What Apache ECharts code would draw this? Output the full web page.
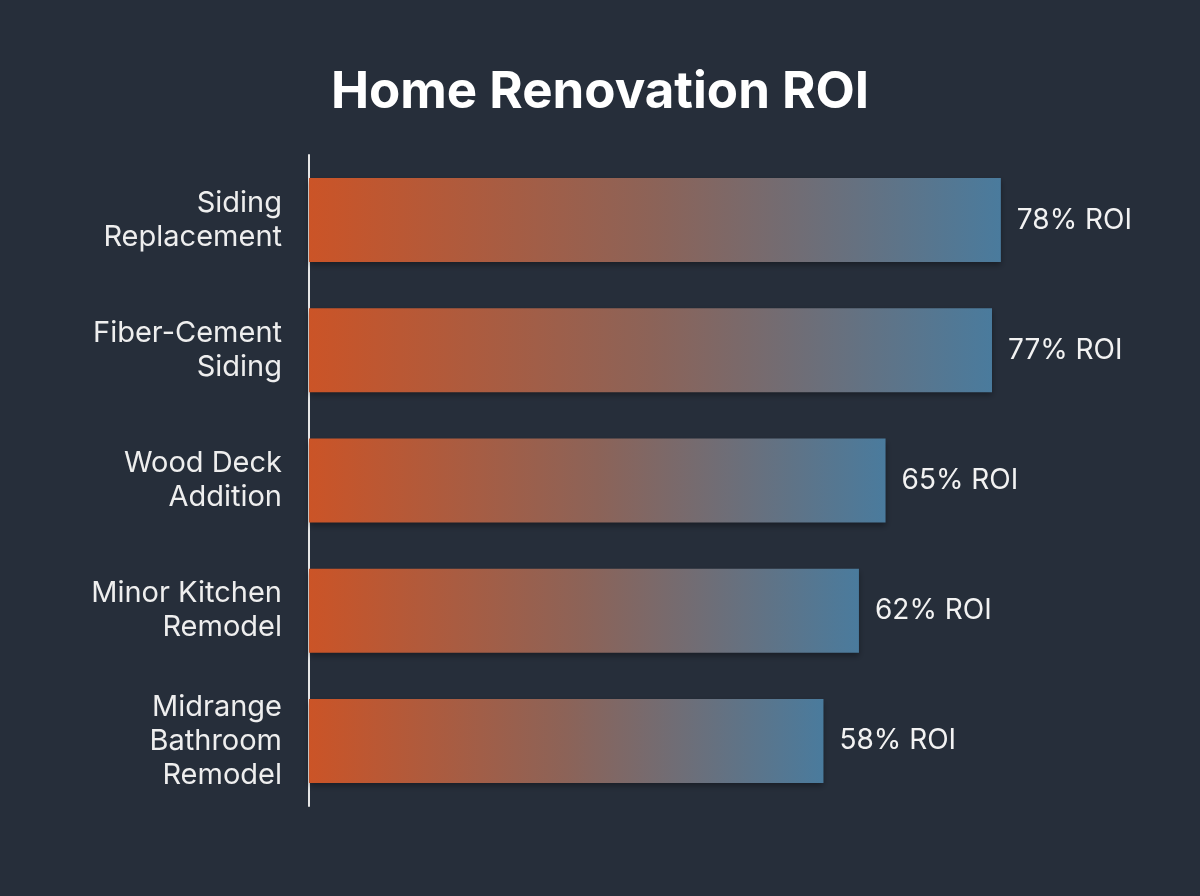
<!DOCTYPE html>
<html>
<head>
<meta charset="utf-8">
<title>Home Renovation ROI</title>
<script src="https://cdn.jsdelivr.net/npm/echarts@6/dist/echarts.min.js"></script>
<style>
  html, body { margin: 0; padding: 0; background: #262e3a; }
  #chart { width: 1200px; height: 896px; }
</style>
</head>
<body>
<div id="chart"></div>
<script>
// projects, top to bottom as drawn
const projects = [
  'Siding\nReplacement',
  'Fiber-Cement\nSiding',
  'Wood Deck\nAddition',
  'Minor Kitchen\nRemodel',
  'Midrange\nBathroom\nRemodel'
];
const roiValues = [78, 77, 65, 62, 58];

const barGradient = new echarts.graphic.LinearGradient(0, 0, 1, 0, [
  { offset: 0, color: '#cb5427' },
  { offset: 0.5, color: '#8c6358' },
  { offset: 1, color: '#4a7b9d' }
]);

const chart = echarts.init(document.getElementById('chart'));

chart.setOption({
  backgroundColor: '#262e3a',
  title: {
    text: 'Home Renovation ROI',
    left: 'center',
    top: 62,
    textStyle: {
      color: '#ffffff',
      fontFamily: 'Inter',
      fontWeight: 'bold',
      fontSize: 51
    }
  },
  grid: { left: 309, right: 4, top: 155, bottom: 90 },
  xAxis: {
    type: 'value',
    min: 0,
    max: 100,
    show: false
  },
  yAxis: {
    type: 'category',
    data: projects,
    inverse: true,
    axisLine: { show: true, lineStyle: { color: '#e6e6e6', width: 2 } },
    axisTick: { show: false },
    axisLabel: {
      color: '#eeeeee',
      fontFamily: 'Inter',
      fontSize: 29,
      lineHeight: 34,
      align: 'right',
      margin: 27
    }
  },
  series: [{
    type: 'bar',
    data: roiValues,
    barWidth: 84,
    itemStyle: {
      color: barGradient,
      shadowColor: 'rgba(0,0,0,0.35)',
      shadowBlur: 6,
      shadowOffsetY: 3
    },
    label: {
      show: true,
      position: 'right',
      distance: 16,
      formatter: '{c}% ROI',
      color: '#f2f2f2',
      fontFamily: 'Inter',
      fontSize: 28
    },
    animation: false
  }]
});
</script>
</body>
</html>
